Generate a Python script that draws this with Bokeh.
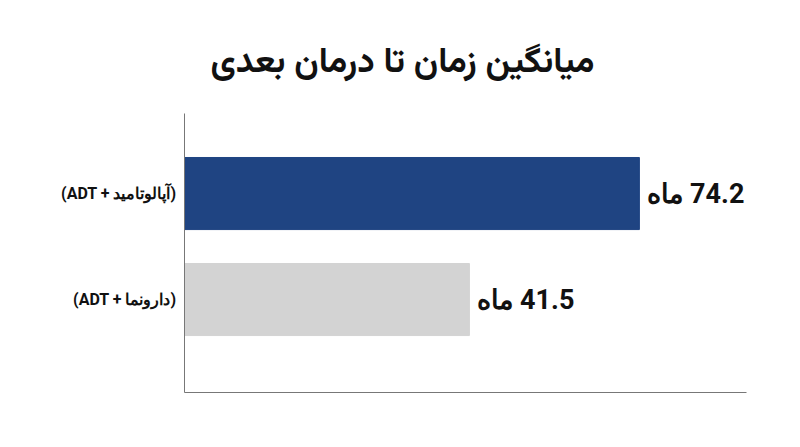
from bokeh.plotting import figure
from bokeh.models import Range1d, FixedTicker, ColumnDataSource, Title, LabelSet
from bokeh.core.properties import value
from bokeh.embed import file_html
from bokeh.resources import INLINE

# data
categories = ["(ADT + دارونما)", "(ADT + آپالوتامید)"]
values = [41.5, 74.2]
value_labels = ["ماه\u200e 41.5", "ماه\u200e 74.2"]
colors = ["#D3D3D3", "#1F4482"]
title_text = "میانگین زمان تا درمان بعدی"

X_START, X_END = -13.3, 94.8

positions = list(range(len(categories)))
src = ColumnDataSource(dict(y=positions, v=values, lab=value_labels, c=colors,
                            left=[X_START] * len(values)))

p = figure(width=784, height=431, output_backend="svg", toolbar_location=None,
           x_range=Range1d(X_START, X_END), y_range=Range1d(-0.877, 1.755),
           min_border_left=184, min_border_right=38, min_border_top=113,
           min_border_bottom=39)
p.title = Title(text=title_text, align="left", text_font_size="35px",
                text_font="Vazirmatn, 'Noto Sans Arabic', 'DejaVu Sans', sans-serif",
                text_font_style="bold", text_color="#111111", offset=26, standoff=46)

p.hbar(y="y", left="left", right="v", height=0.68, color="c", source=src)
labels = LabelSet(x="v", y="y", text="lab", source=src, x_offset=8,
                  text_align="left", text_baseline="middle", text_font_size="27px",
                  text_font_style="bold", text_color="#111111",
                  text_font=value("Roboto"))
p.add_layout(labels)

p.grid.visible = False
p.outline_line_color = None

ya = p.yaxis[0]
ya.ticker = FixedTicker(ticks=positions)
ya.major_label_overrides = {i: c for i, c in enumerate(categories)}
ya.major_tick_line_color = None
ya.minor_tick_line_color = None
ya.axis_line_color = "#777777"
ya.major_label_text_font_size = "16px"
ya.major_label_text_font_style = "bold"
ya.major_label_text_color = "#111111"
ya.major_label_text_font = "Roboto"
ya.major_label_standoff = 2

xa = p.xaxis[0]
xa.ticker = FixedTicker(ticks=[])
xa.major_tick_line_color = None
xa.minor_tick_line_color = None
xa.axis_line_color = "#777777"
xa.major_label_text_font_size = "0px"

open("out.html", "w").write(file_html(p, INLINE))
